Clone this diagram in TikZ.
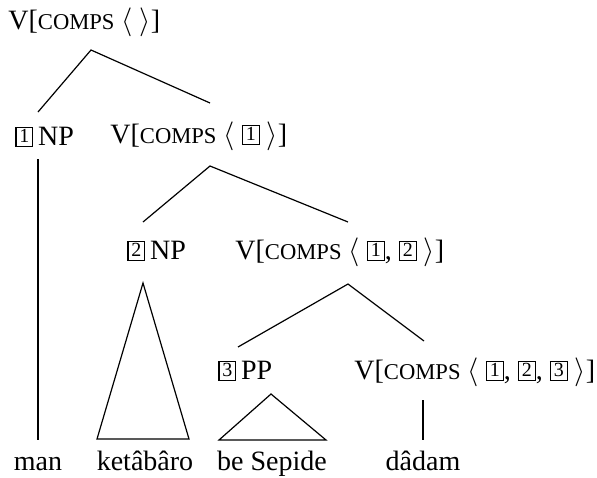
\documentclass[tikz,border=0pt]{standalone}
\usepackage{fontspec}
\setmainfont{Liberation Serif}
% boxed index tag
\newcommand{\tagnum}[1]{{\setlength{\fboxsep}{0pt}\setlength{\fboxrule}{0.6pt}\fbox{\makebox[7.8pt]{\rule[-0.25pt]{0pt}{8.6pt}\raisebox{1.2pt}{\fontsize{10}{10}\selectfont #1}}}}}
\newcommand{\cmp}{{\fontsize{11.3}{11.3}\selectfont COMPS}}
\begin{document}
\begin{tikzpicture}[x=0.5pt,y=-0.5pt,
  lab/.style={inner sep=0pt,font=\fontsize{14}{16}\selectfont},
  edge/.style={line width=0.6pt}]
\useasboundingbox (0,0) rectangle (597,477);
% category labels
\node[lab,anchor=base west] (root) at (8,29) {V[\cmp\ $\langle\ \rangle$]};
\node[lab,anchor=base west] (np1) at (15,145) {\tagnum{1}\,NP};
\node[lab,anchor=base west] (v1) at (110,143) {V[\cmp\ $\langle$ \tagnum{1} $\rangle$]};
\node[lab,anchor=base west] (np2) at (127,259) {\tagnum{2}\,NP};
\node[lab,anchor=base west] (v12) at (235,259) {V[\cmp\ $\langle$ \tagnum{1}, \tagnum{2} $\rangle$]};
\node[lab,anchor=base west] (pp3) at (218,379) {\tagnum{3}\,PP};
\node[lab,anchor=base west] (v123) at (354,379) {V[\cmp\ $\langle$ \tagnum{1}, \tagnum{2}, \tagnum{3} $\rangle$]};
% words
\node[lab,anchor=base] (man) at (38,470) {man};
\node[lab,anchor=base] (ket) at (145,470) {ketâbâro};
\node[lab,anchor=base] (sep) at (272,470) {be Sepide};
\node[lab,anchor=base] (dad) at (423,470) {dâdam};
% branch points
\coordinate (r0) at (91,50);
\coordinate (r1) at (38,112);
\coordinate (r2) at (210,103);
\coordinate (a0) at (210,166);
\coordinate (a1) at (143,222);
\coordinate (a2) at (348,222);
\coordinate (b0) at (348,284);
\coordinate (b1) at (238,347);
\coordinate (b2) at (424,341);
\coordinate (n1) at (38,159);
\coordinate (m1) at (38,440);
\coordinate (k0) at (143,283);
\coordinate (kl) at (97,439);
\coordinate (kr) at (189,439);
\coordinate (s0) at (271,394);
\coordinate (sl) at (219,440);
\coordinate (sr) at (326,440);
\coordinate (d0) at (423,400);
\coordinate (d1) at (423,440);
% branches
\draw[edge] (r1) -- (r0) -- (r2);
\draw[edge] (a1) -- (a0) -- (a2);
\draw[edge] (b1) -- (b0) -- (b2);
\draw[edge] (n1) -- (m1);
\draw[edge] (kl) -- (k0) -- (kr) -- cycle;
\draw[edge] (sl) -- (s0) -- (sr) -- cycle;
\draw[edge] (d0) -- (d1);
\end{tikzpicture}
\end{document}
